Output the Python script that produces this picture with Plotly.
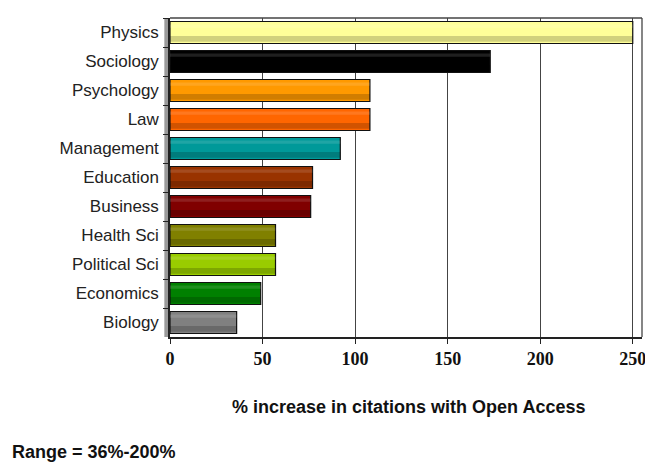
import plotly.graph_objects as go

subjects = ["Physics", "Sociology", "Psychology", "Law", "Management", "Education",
            "Business", "Health Sci", "Political Sci", "Economics", "Biology"]
increase = [250, 173, 108, 108, 92, 77, 76, 57, 57, 49, 36]
colors = ["#FFFF99", "#000000", "#FF9900", "#FF6600", "#009999", "#993300",
          "#800000", "#808000", "#99CC00", "#008000", "#808080"]
x_ticks = [0, 50, 100, 150, 200, 250]

fig = go.Figure()
fig.add_trace(go.Bar(
    y=subjects, x=increase, orientation="h", width=0.76,
    marker=dict(color=colors, line=dict(color="#111111", width=1.2)),
    hoverinfo="skip", showlegend=False,
))
# lower shading band to suggest cylinder
fig.add_trace(go.Bar(
    y=subjects, x=increase, orientation="h", width=0.2, offset=0.12,
    marker=dict(color="rgba(0,0,0,0.18)", line=dict(width=0)),
    hoverinfo="skip", showlegend=False,
))
# upper highlight
fig.add_trace(go.Bar(
    y=subjects, x=increase, orientation="h", width=0.12, offset=-0.28,
    marker=dict(color="rgba(255,255,255,0.12)", line=dict(width=0)),
    hoverinfo="skip", showlegend=False,
))

fig.update_layout(
    width=637, height=454,
    margin=dict(l=162, r=3, t=10, b=125),
    paper_bgcolor="white", plot_bgcolor="white",
    barmode="overlay",
    xaxis=dict(
        range=[0, 255], tickvals=x_ticks, ticktext=[str(v) for v in x_ticks],
        showgrid=True, gridcolor="#444444", gridwidth=1.3,
        zeroline=False, showline=True, linecolor="#222222", linewidth=1.5,
        ticks="outside", ticklen=5, tickcolor="#222222",
        tickfont=dict(family="Liberation Serif", size=18, color="#111111", weight="bold"),
        ticklabeloverflow="allow",
        automargin=False,
    ),
    yaxis=dict(
        autorange="reversed", showgrid=False, zeroline=False,
        showline=True, linecolor="#222222", linewidth=1.5,
        ticks="outside", ticklen=5, tickcolor="#222222", tickson="boundaries",
        ticklabelstandoff=6,
        tickfont=dict(family="Liberation Sans", size=17, color="#222222"),
        automargin=False,
    ),
    shapes=[
        # left wall
        dict(type="rect", xref="paper", yref="paper", x0=-0.012, x1=0.0, y0=0, y1=1,
             fillcolor="#9a9a9a", line=dict(width=0), layer="below"),
        # top and right frame
        dict(type="line", xref="paper", yref="paper", x0=0, x1=1, y0=1, y1=1,
             line=dict(color="#444444", width=1.3)),
        dict(type="line", xref="paper", yref="paper", x0=1, x1=1, y0=0, y1=1,
             line=dict(color="#444444", width=1.3)),
    ],
    annotations=[
        dict(text="<b>% increase in citations with Open Access</b>", xref="paper", yref="paper",
             x=0.506, y=-0.219, xanchor="center", yanchor="middle", showarrow=False,
             font=dict(family="Liberation Sans", size=18, color="#111111")),
        dict(text="<b>Range = 36%-200%</b>", xref="paper", yref="paper",
             x=-0.339, y=-0.361, xanchor="left", yanchor="middle", showarrow=False,
             font=dict(family="Liberation Sans", size=18, color="#111111")),
    ],
)

fig.write_html("out.html")
